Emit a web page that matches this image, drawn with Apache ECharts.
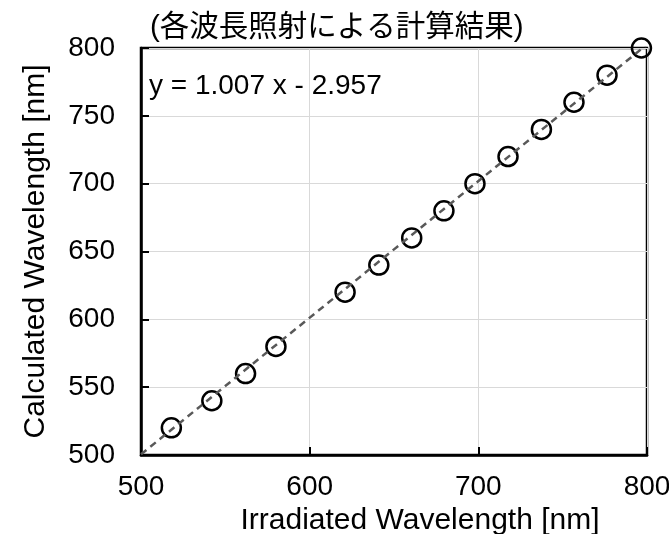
<!DOCTYPE html>
<html style="height: 100%">
<head>
<meta charset="utf-8">
<title>Wavelength calibration</title>
<script type="text/javascript" src="https://cdn.jsdelivr.net/npm/echarts@6/dist/echarts.min.js"></script>
</head>
<body style="height: 100%; margin: 0; background: #fff">
<div id="target" style="width: 669px; height: 534px"></div>
<script type="text/javascript">
// measured points (irradiated vs calculated, nm)
const irradiated = [518, 542, 562, 580, 621, 641, 660.5, 679.6, 698, 717.6, 737.4, 756.7, 776.3, 796.7];
const calculated = [520, 540, 560, 580, 620, 640, 660, 680, 700, 720, 740, 760, 780, 800];

// fitted line end points
const fitX = [500, 800];
const fitY = [500.5, 802.6];

const titleText = "(各波長照射による計算結果)";
const fitLabel = "y = 1.007 x - 2.957";
const xName = "Irradiated Wavelength [nm]";
const yName = "Calculated Wavelength [nm]";

const FONT = "'Liberation Sans', Arial, 'Noto Sans CJK JP', sans-serif";

let chart = echarts.init(document.getElementById('target'));

let option = {
    animation: false,
    backgroundColor: "#fff",
    textStyle: { fontFamily: FONT, color: "#000" },
    title: [
        {
            text: titleText,
            left: 145,
            top: 8,
            textStyle: { fontSize: 29.5, fontWeight: "normal", color: "#000", fontFamily: FONT },
        },
        {
            text: fitLabel,
            left: 144,
            top: 67,
            textStyle: { fontSize: 28, fontWeight: "normal", color: "#000", fontFamily: FONT },
        },
    ],
    grid: {
        left: 141,
        right: 22,
        top: 48,
        bottom: 79,
        containLabel: false,
        outerBoundsMode: "none",
        show: true,
        borderColor: "#000",
        borderWidth: 2.5,
    },
    xAxis: {
        type: "value",
        min: 500,
        max: 800,
        interval: 100,
        name: xName,
        nameLocation: "middle",
        nameGap: 50,
        nameTextStyle: { fontSize: 30, color: "#000", fontFamily: FONT, padding: [0, 0, 0, 52] },
        axisLine: { show: true, lineStyle: { color: "#000", width: 2.5 } },
        axisTick: { show: true, inside: true, length: 8, lineStyle: { color: "#000", width: 2 } },
        axisLabel: { fontSize: 28, color: "#000", margin: 18, fontFamily: FONT },
        splitLine: { show: true, lineStyle: { color: "#d9d9d9", width: 1 } },
    },
    yAxis: {
        type: "value",
        min: 500,
        max: 800,
        interval: 50,
        name: yName,
        nameLocation: "middle",
        nameGap: 90,
        nameTextStyle: { fontSize: 30, color: "#000", fontFamily: FONT },
        axisLine: { show: true, lineStyle: { color: "#000", width: 2.5 } },
        axisTick: { show: true, inside: true, length: 8, lineStyle: { color: "#000", width: 2 } },
        axisLabel: { fontSize: 28, color: "#000", margin: 26, fontFamily: FONT },
        splitLine: { show: true, lineStyle: { color: "#d9d9d9", width: 1 } },
    },
    series: [
        {
            name: "fit",
            type: "line",
            data: fitX.map((x, i) => [x, fitY[i]]),
            symbol: "none",
            clip: true,
            lineStyle: { color: "#595959", width: 2.5, type: [7, 5] },
            z: 3,
        },
        {
            name: "points",
            type: "scatter",
            data: irradiated.map((x, i) => [x, calculated[i]]),
            symbol: "circle",
            symbolSize: 19,
            clip: false,
            itemStyle: { color: "rgba(0,0,0,0)", borderColor: "#000", borderWidth: 2.5, opacity: 1 },
            z: 2,
        },
    ],
};

chart.setOption(option);
</script>
</body>
</html>
